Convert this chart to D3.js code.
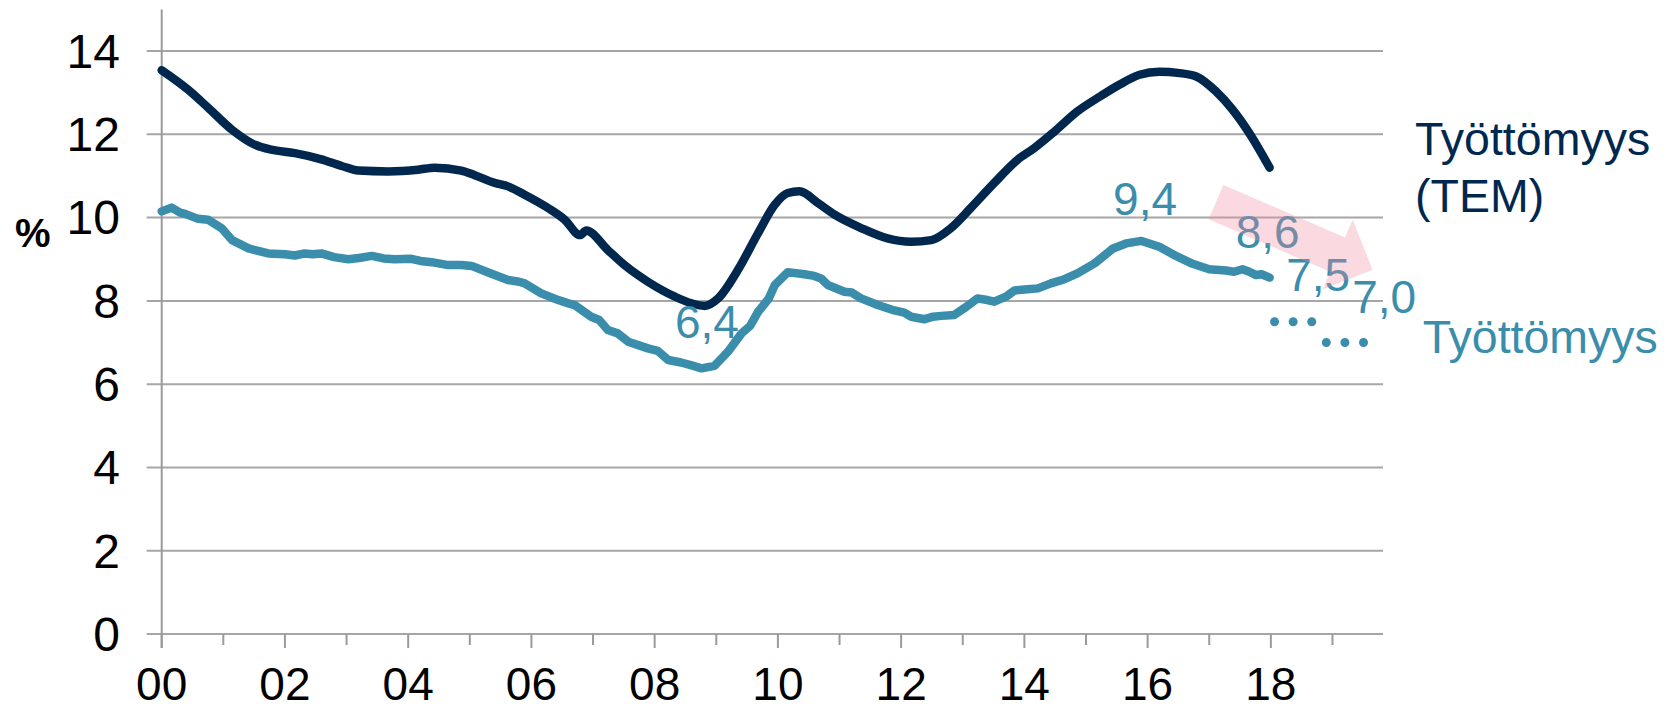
<!DOCTYPE html>
<html>
<head>
<meta charset="utf-8">
<script src="https://cdn.jsdelivr.net/npm/d3@7"></script>
<style>
  html, body { margin: 0; padding: 0; background: #fff; }
  svg { display: block; font-family: "Liberation Sans", Arial, sans-serif; }
</style>
</head>
<body>
<svg id="chart" width="1668" height="712"></svg>
<script>
// ---- data (years since 2000, %) ----
const temYears = [0.00,0.43,0.76,1.14,1.51,1.78,2.16,2.59,2.92,3.19,3.68,4.16,4.43,4.86,5.08,5.41,5.62,5.89,6.27,6.54,6.79,6.89,7.24,7.51,7.89,8.33,8.60,8.81,9.03,9.35,9.68,9.95,10.16,10.35,10.65,10.92,11.35,11.78,12.16,12.49,12.81,13.13,13.51,13.89,14.16,14.49,14.86,15.24,15.54,15.87,16.19,16.52,16.79,17.11,17.38,17.65,17.98];
const temValues = [13.54,13.07,12.63,12.11,11.75,11.63,11.55,11.40,11.24,11.13,11.11,11.15,11.20,11.13,11.02,10.83,10.75,10.55,10.23,9.95,9.58,9.69,9.22,8.86,8.46,8.10,7.94,7.88,8.06,8.74,9.63,10.31,10.59,10.63,10.35,10.07,9.75,9.50,9.42,9.46,9.75,10.23,10.83,11.39,11.67,12.07,12.55,12.92,13.19,13.43,13.50,13.47,13.39,13.03,12.59,12.03,11.20];

const tkYears = [0.00,0.16,0.30,0.38,0.59,0.75,0.97,1.14,1.41,1.73,2.00,2.16,2.32,2.45,2.59,2.80,3.03,3.20,3.41,3.60,3.78,4.05,4.20,4.38,4.65,4.86,5.03,5.30,5.62,5.80,5.89,6.16,6.40,6.60,6.70,6.97,7.10,7.24,7.40,7.57,7.89,8.05,8.22,8.43,8.60,8.76,8.97,9.19,9.41,9.55,9.68,9.85,9.95,10.16,10.43,10.59,10.70,10.81,11.08,11.20,11.35,11.62,11.89,12.05,12.16,12.38,12.52,12.65,12.86,13.05,13.24,13.40,13.51,13.70,13.84,14.05,14.22,14.43,14.65,14.86,15.14,15.44,15.65,15.90,16.19,16.46,16.73,17.00,17.27,17.40,17.54,17.65,17.76,17.85,17.98];
const tkValues = [10.15,10.24,10.12,10.09,9.97,9.95,9.75,9.46,9.26,9.14,9.12,9.09,9.14,9.12,9.14,9.05,9.00,9.03,9.08,9.02,9.00,9.01,8.96,8.93,8.86,8.86,8.84,8.68,8.50,8.46,8.42,8.18,8.04,7.94,7.90,7.62,7.54,7.30,7.22,7.02,6.86,6.80,6.58,6.52,6.45,6.38,6.44,6.78,7.22,7.40,7.74,8.05,8.38,8.69,8.64,8.60,8.54,8.38,8.22,8.20,8.06,7.90,7.77,7.72,7.62,7.56,7.62,7.64,7.66,7.85,8.06,8.02,7.98,8.10,8.25,8.28,8.30,8.42,8.52,8.66,8.90,9.26,9.38,9.44,9.30,9.08,8.89,8.76,8.73,8.70,8.76,8.70,8.62,8.64,8.56];

// forecasts (dotted)
const forecastStart = [18.06, 18.90];
const forecastEnd   = [18.68, 19.51];
const forecastValues = [7.5, 7.0];

// annotations: text, anchor year, anchor value
const labelTexts = ["6,4", "9,4", "8,6", "7,5", "7,0"];
const labelYears = [8.33, 15.44, 17.43, 18.25, 19.32];
const labelValues = [7.11, 10.07, 9.27, 8.23, 7.71];

// axis
const yTicks = [0, 2, 4, 6, 8, 10, 12, 14];
const xTickYears = d3.range(0, 20);
const xTickLabels = ["00","02","04","06","08","10","12","14","16","18"];

// arrow (year, value) from -> to
const arrowFrom = [17.11, 10.37];
const arrowTo = [19.65, 8.75];

// ---- drawing ----
const navy = "#00284f";
const teal = "#3a8dab";
const grid = "#a6a6a6";

const svg = d3.select("#chart");
svg.append("rect").attr("width", 1668).attr("height", 712).attr("fill", "#fff");

const x = d3.scaleLinear().domain([0, 19.82]).range([161.7, 1383]);
const y = d3.scaleLinear().domain([0, 15]).range([634, 9.4]);

// gridlines
svg.append("g").selectAll("line").data(yTicks).join("line")
  .attr("x1", 146.7).attr("x2", 1383)
  .attr("y1", d => y(d)).attr("y2", d => y(d))
  .attr("stroke", grid).attr("stroke-width", 2);

// y axis line
svg.append("line").attr("x1", x(0)).attr("x2", x(0))
  .attr("y1", y(15)).attr("y2", y(0) + 14)
  .attr("stroke", "#9a9a9a").attr("stroke-width", 2);

// x ticks
svg.append("g").selectAll("line").data(xTickYears).join("line")
  .attr("x1", d => x(d)).attr("x2", d => x(d))
  .attr("y1", y(0)).attr("y2", d => y(0) + (d % 2 === 0 ? 14 : 11))
  .attr("stroke", "#9a9a9a").attr("stroke-width", 2);

// y labels
svg.append("g").selectAll("text").data(yTicks).join("text")
  .attr("x", 120).attr("y", d => y(d)).attr("dy", "0.35em")
  .attr("text-anchor", "end").attr("font-size", 48).attr("fill", "#000")
  .text(d => d);

// x labels
svg.append("g").selectAll("text").data(xTickLabels).join("text")
  .attr("x", (d, i) => x(i * 2)).attr("y", 700)
  .attr("text-anchor", "middle").attr("font-size", 46).attr("fill", "#000")
  .text(d => d);

// % label
svg.append("text").attr("x", 15).attr("y", 246.7)
  .attr("font-size", 40).attr("font-weight", "bold").attr("fill", "#000").text("%");

// lines
const temData = temYears.map((t, i) => [t, temValues[i]]);
const tkData = tkYears.map((t, i) => [t, tkValues[i]]);

svg.append("path").datum(tkData)
  .attr("d", d3.line().x(d => x(d[0])).y(d => y(d[1])).curve(d3.curveLinear))
  .attr("fill", "none").attr("stroke", teal).attr("stroke-width", 8.5)
  .attr("stroke-linejoin", "round").attr("stroke-linecap", "round");

svg.append("path").datum(temData)
  .attr("d", d3.line().x(d => x(d[0])).y(d => y(d[1])).curve(d3.curveMonotoneX))
  .attr("fill", "none").attr("stroke", navy).attr("stroke-width", 8.5)
  .attr("stroke-linejoin", "round").attr("stroke-linecap", "round");

// forecast dotted segments
svg.append("g").selectAll("line").data(forecastValues).join("line")
  .attr("x1", (d, i) => x(forecastStart[i])).attr("x2", (d, i) => x(forecastEnd[i]))
  .attr("y1", d => y(d)).attr("y2", d => y(d))
  .attr("stroke", teal).attr("stroke-width", 9)
  .attr("stroke-linecap", "round").attr("stroke-dasharray", "0,18.6");

// value labels
svg.append("g").selectAll("text").data(labelTexts).join("text")
  .attr("x", (d, i) => x(labelYears[i])).attr("y", (d, i) => y(labelValues[i]))
  .attr("font-size", 46).attr("fill", teal)
  .text(d => d);

// arrow
const ax0 = x(arrowFrom[0]), ay0 = y(arrowFrom[1]);
const ax1 = x(arrowTo[0]), ay1 = y(arrowTo[1]);
const len = Math.hypot(ax1 - ax0, ay1 - ay0);
const ang = Math.atan2(ay1 - ay0, ax1 - ax0) * 180 / Math.PI;
const sw = 18.7, hw = 38, hl = 38;
const pts = [[0,-sw],[len-hl,-sw],[len-hl,-hw],[len,0],[len-hl,hw],[len-hl,sw],[0,sw]];
svg.append("polygon")
  .attr("points", pts.map(p => p.join(",")).join(" "))
  .attr("transform", `translate(${ax0},${ay0}) rotate(${ang})`)
  .attr("fill", "rgb(240,140,160)").attr("fill-opacity", 0.33);

// legend labels
svg.append("text").attr("x", 1415).attr("y", 155)
  .attr("font-size", 46.5).attr("fill", navy).text("Työttömyys");
svg.append("text").attr("x", 1415).attr("y", 211.7)
  .attr("font-size", 46.5).attr("fill", navy).text("(TEM)");
svg.append("text").attr("x", 1422.7).attr("y", 353.3)
  .attr("font-size", 46.5).attr("fill", teal).text("Työttömyys");
</script>
</body>
</html>
